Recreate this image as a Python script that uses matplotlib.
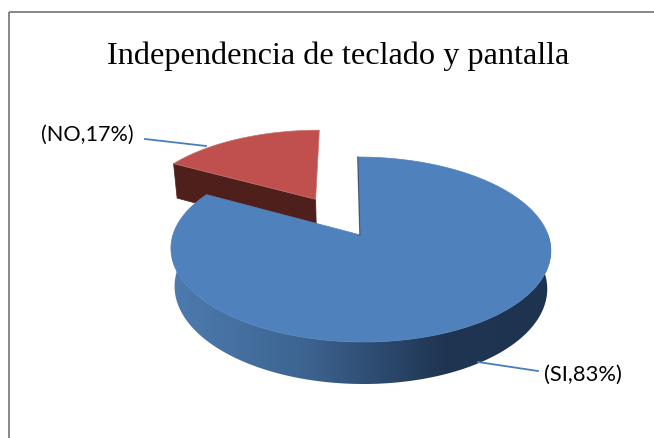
import numpy as np
import matplotlib
matplotlib.use("Agg")
import matplotlib.pyplot as plt
from matplotlib.colors import LinearSegmentedColormap
from matplotlib.patches import Polygon, Rectangle

categories = ["SI", "NO"]
shares = [83, 17]
title = "Independencia de teclado y pantalla"
label_texts = ["(SI,83%)", "(NO,17%)"]

W, H = 654, 439
fig = plt.figure(figsize=(W / 100, H / 100), dpi=100)
ax = fig.add_axes([0, 0, 1, 1])

# Perspective model of the pie disc, in pixel units
CX = 360.5
TILT = 0.157
TOP = dict(a=187.6, b=90.2, cy=236.0)
BOTTOM = dict(a=184.0, b=94.0, cy=273.5)
SHEAR = -2.5
EXPLODE = 0.49


def project(u, v, face):
    d = 1 + TILT * v
    return CX + (face["a"] * u + SHEAR * v) / d, face["cy"] - face["b"] * v / d


def wedge_uv(start, end, offset=(0.0, 0.0), n=240):
    """Plane coordinates of a sector's rim; angles run clockwise from 12 o'clock."""
    t = np.radians(np.linspace(start, end, n))
    return offset[0] + np.sin(t), offset[1] + np.cos(t)


total = sum(shares)
si_end = 360 * shares[0] / total
no_mid = np.radians((si_end + 360) / 2)
offset = (EXPLODE * np.sin(no_mid), EXPLODE * np.cos(no_mid))

# Exploded slice: cut wall, then its top face
tip = np.radians(si_end)
tip_uv = (offset[0] + np.sin(tip), offset[1] + np.cos(tip))
wall = [project(*offset, TOP), project(*tip_uv, TOP),
        project(*tip_uv, BOTTOM), project(*offset, BOTTOM)]
ax.add_patch(Polygon(wall, closed=True, fc="#4f1f1c", ec="#4f1f1c", lw=0.5, zorder=2))

u, v = wedge_uv(si_end, 360, offset)
xs, ys = project(u, v, TOP)
ax0, ay0 = project(*offset, TOP)
ax.add_patch(Polygon(np.column_stack([np.r_[ax0, xs], np.r_[ay0, ys]]), closed=True,
                     fc="#c0504d", ec="#c9716e", lw=0.5, zorder=3))

# Large slice: outer wall shaded from left to right, clipped to the rim band
shade = LinearSegmentedColormap.from_list(
    "rim", [(0.0, "#4d7bae"), (0.35, "#3d6491"), (0.72, "#1f3552"), (1.0, "#1e3350")])
t = np.radians(np.linspace(90, 270, 400))
us, vs = np.sin(t), np.cos(t)
xt, yt = project(us, vs, TOP)
xb, yb = project(us, vs, BOTTOM)
band = np.column_stack([np.r_[xt, xb[::-1]], np.r_[yt, yb[::-1]]])
band_patch = Polygon(band, closed=True, fc="none", ec="none", transform=ax.transData)
ax.add_patch(band_patch)
x_min, x_max = 172.0, 551.0
image = ax.imshow(np.linspace(0, 1, 400).reshape(1, -1), cmap=shade, aspect="auto",
                  extent=(x_min, x_max, 400, 230), zorder=4, interpolation="bilinear")
image.set_clip_path(band_patch)

# Top face of the large slice
u, v = wedge_uv(0, si_end)
xs, ys = project(u, v, TOP)
ax0, ay0 = project(0.0, 0.0, TOP)
ax.add_patch(Polygon(np.column_stack([np.r_[ax0, xs], np.r_[ay0, ys]]), closed=True,
                     fc="#4f81bd", ec="#4f81bd", lw=0.5, zorder=5))

# Thin shadow along the vertical cut
tx, ty = project(0.0, 1.0, TOP)
ax.plot([tx - 0.6, ax0 - 0.6], [ty, ay0], color="#1f3552", lw=0.9, alpha=0.8, zorder=6)

# Leader lines
ax.plot([145, 206], [140, 147], color="#4a7ebb", lw=1.3, zorder=6)
ax.plot([478, 538], [363, 372], color="#4a7ebb", lw=1.3, zorder=6)

# Chart frame runs off the right and bottom of the canvas
ax.add_patch(Rectangle((8.5, 13), W + 20, H + 20, fc="none", ec="#868686", lw=1.4, zorder=1))

ax.text(338, 56, title, family="Liberation Serif", fontsize=23.2, color="black",
        ha="center", va="center", zorder=7)
ax.text(583, 374.5, label_texts[0], family="Lato", fontsize=15.8, color="black",
        ha="center", va="center", zorder=7)
ax.text(87.5, 135, label_texts[1], family="Lato", fontsize=15.6, color="black",
        ha="center", va="center", zorder=7)

ax.set_xlim(0, W)
ax.set_ylim(H, 0)
ax.axis("off")

fig.savefig("out.png", dpi=100, facecolor="white")
